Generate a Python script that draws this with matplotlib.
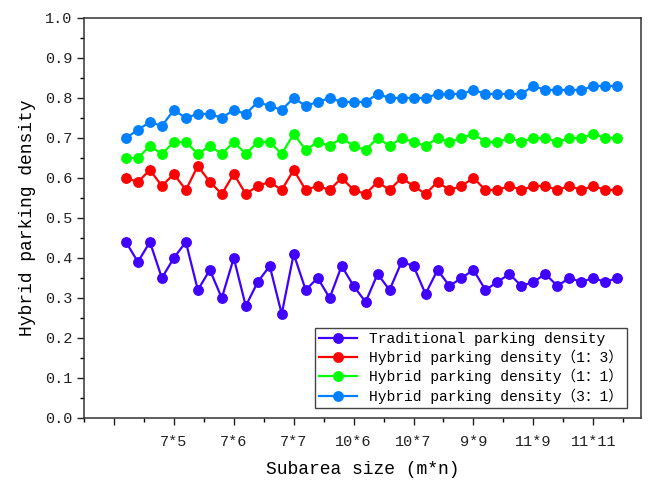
import matplotlib.pyplot as plt
from matplotlib.ticker import MultipleLocator

# данные
x = list(range(1, 43))
traditional = [0.44, 0.39, 0.44, 0.35, 0.40, 0.44, 0.32, 0.37, 0.30, 0.40,
               0.28, 0.34, 0.38, 0.26, 0.41, 0.32, 0.35, 0.30, 0.38, 0.33,
               0.29, 0.36, 0.32, 0.39, 0.38, 0.31, 0.37, 0.33, 0.35, 0.37,
               0.32, 0.34, 0.36, 0.33, 0.34, 0.36, 0.33, 0.35, 0.34, 0.35,
               0.34, 0.35]
hybrid_1_3 = [0.60, 0.59, 0.62, 0.58, 0.61, 0.57, 0.63, 0.59, 0.56, 0.61,
              0.56, 0.58, 0.59, 0.57, 0.62, 0.57, 0.58, 0.57, 0.60, 0.57,
              0.56, 0.59, 0.57, 0.60, 0.58, 0.56, 0.59, 0.57, 0.58, 0.60,
              0.57, 0.57, 0.58, 0.57, 0.58, 0.58, 0.57, 0.58, 0.57, 0.58,
              0.57, 0.57]
hybrid_1_1 = [0.65, 0.65, 0.68, 0.66, 0.69, 0.69, 0.66, 0.68, 0.66, 0.69,
              0.66, 0.69, 0.69, 0.66, 0.71, 0.67, 0.69, 0.68, 0.70, 0.68,
              0.67, 0.70, 0.68, 0.70, 0.69, 0.68, 0.70, 0.69, 0.70, 0.71,
              0.69, 0.69, 0.70, 0.69, 0.70, 0.70, 0.69, 0.70, 0.70, 0.71,
              0.70, 0.70]
hybrid_3_1 = [0.70, 0.72, 0.74, 0.73, 0.77, 0.75, 0.76, 0.76, 0.75, 0.77,
              0.76, 0.79, 0.78, 0.77, 0.80, 0.78, 0.79, 0.80, 0.79, 0.79,
              0.79, 0.81, 0.80, 0.80, 0.80, 0.80, 0.81, 0.81, 0.81, 0.82,
              0.81, 0.81, 0.81, 0.81, 0.83, 0.82, 0.82, 0.82, 0.82, 0.83,
              0.83, 0.83]
tick_pos = [0, 5, 10, 15, 20, 25, 30, 35, 40]
tick_labels = ['', '7*5', '7*6', '7*7', '10*6', '10*7', '9*9', '11*9', '11*11']

fam = ['Liberation Mono', 'Noto Sans CJK SC']
plt.rcParams['font.family'] = fam

fig = plt.figure(figsize=(6.51, 4.82), dpi=100)
ax = fig.add_axes([0.129, 0.1328, 0.856, 0.83])

series = [
    (traditional, '#3f00ff', 'Traditional parking density'),
    (hybrid_1_3, '#ff0000', 'Hybrid parking density（1：3）'),
    (hybrid_1_1, '#00ff00', 'Hybrid parking density（1：1）'),
    (hybrid_3_1, '#0080ff', 'Hybrid parking density（3：1）'),
]
for y, c, lab in series:
    ax.plot(x, y, color=c, marker='o', markersize=6.8, linewidth=1.6, label=lab)

ax.set_xlim(-2.5, 44)
ax.set_ylim(0, 1.0)
ax.set_xticks(tick_pos)
ax.set_xticklabels(tick_labels)
ax.xaxis.set_minor_locator(MultipleLocator(2.5))
ax.yaxis.set_major_locator(MultipleLocator(0.1))
ax.yaxis.set_minor_locator(MultipleLocator(0.05))
ax.yaxis.set_major_formatter(plt.FuncFormatter(lambda v, p: f'{v:.1f}'))
ax.tick_params(which='major', length=5, width=1, labelsize=11, colors='#222222')
ax.tick_params(axis='x', which='major', pad=7)
ax.tick_params(which='minor', length=3, width=1)
for s in ax.spines.values():
    s.set_color('#333333')
    s.set_linewidth(1.1)

ax.set_xlabel('Subarea size (m*n)', fontsize=13, labelpad=9)
ax.set_ylabel('Hybrid parking density', fontsize=13, labelpad=6)

leg = ax.legend(loc='lower right', bbox_to_anchor=(0.975, 0.025), fontsize=10.5,
                fancybox=False, framealpha=1, edgecolor='#444444',
                handlelength=2.6, borderaxespad=0, labelspacing=0.25, borderpad=0.3)
leg.get_frame().set_linewidth(1)

plt.savefig('out.png', dpi=100)
